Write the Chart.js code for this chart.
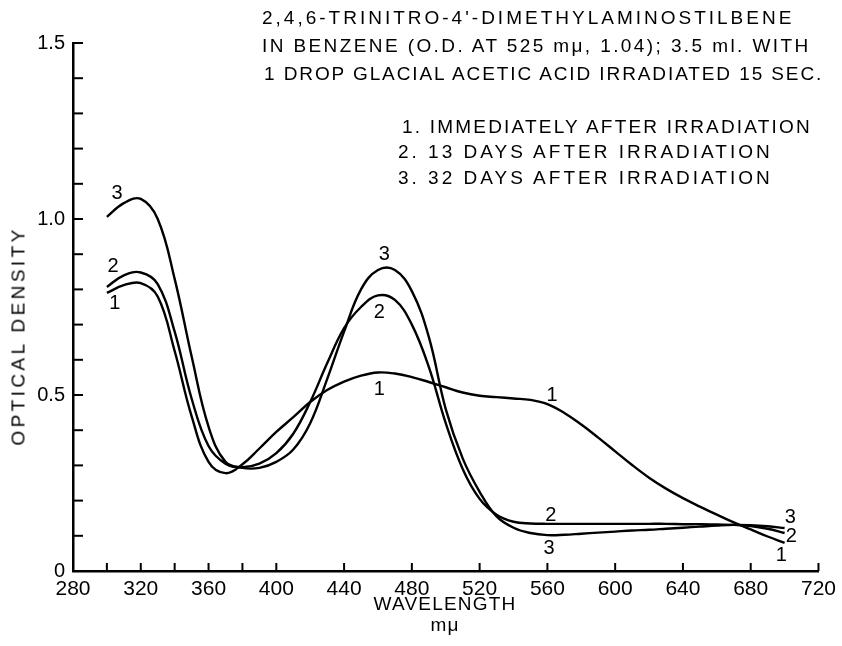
<!DOCTYPE html>
<html lang="en">
<head>
<meta charset="UTF-8">
<title>Trinitro-dimethylaminostilbene absorption after irradiation</title>
<script src="https://cdn.jsdelivr.net/npm/chart.js"></script>
<style>
    body {
        margin: 0;
        background: #fff;
    }

    .wrap {
        position: relative;
        width: 842px;
        height: 646px;
        font-family: "Liberation Sans", Arial, sans-serif;
        color: #000;
    }

    .note {
        position: absolute;
        font-size: 19px;
        letter-spacing: 1.2px;
        white-space: nowrap;
        line-height: 1;
    }
</style>
</head>
<body>
<div class="wrap">
    <canvas id="spectrum" width="842" height="646"></canvas>

    <div class="note" style="left:262px; top:8px; letter-spacing:3px;">2,4,6-TRINITRO-4'-DIMETHYLAMINOSTILBENE</div>
    <div class="note" style="left:262px; top:36px; letter-spacing:2.4px;">IN BENZENE (O.D. AT 525 mμ, 1.04); 3.5 ml. WITH</div>
    <div class="note" style="left:264px; top:64px; letter-spacing:1.9px;">1 DROP GLACIAL ACETIC ACID IRRADIATED 15 SEC.</div>

    <div class="note" style="left:402px; top:117px; letter-spacing:2.2px;">1. IMMEDIATELY AFTER IRRADIATION</div>
    <div class="note" style="left:398px; top:142px; letter-spacing:3px;">2. 13 DAYS AFTER IRRADIATION</div>
    <div class="note" style="left:398px; top:168px; letter-spacing:3px;">3. 32 DAYS AFTER IRRADIATION</div>

    <div class="note" style="left:18px; top:336px; letter-spacing:3.4px; transform:translate(-50%,-50%) rotate(-90deg);">OPTICAL DENSITY</div>
    <div class="note" style="left:445px; top:603px; transform:translate(-50%,-50%);">WAVELENGTH</div>
    <div class="note" style="left:445px; top:624px; transform:translate(-50%,-50%);">mμ</div>
</div>

<script>
    // wavelength in m-mu, optical density
    const wavelengths = [300, 310, 320, 330, 340, 350, 360, 370, 380, 390,
        400, 410, 420, 430, 440, 450, 460, 470, 480, 490,
        500, 510, 520, 530, 540, 550, 560, 570, 580, 590,
        600, 610, 620, 630, 640, 650, 660, 670, 680, 690, 700];

    const immediately = [0.79, 0.812, 0.818, 0.78, 0.625, 0.44, 0.31, 0.278, 0.303, 0.348,
        0.395, 0.437, 0.48, 0.514, 0.538, 0.555, 0.564, 0.561, 0.551, 0.537,
        0.522, 0.507, 0.498, 0.494, 0.49, 0.486, 0.474, 0.449, 0.416, 0.379,
        0.34, 0.301, 0.265, 0.234, 0.207, 0.183, 0.16, 0.138, 0.118, 0.098, 0.08];

    const days13 = [0.807, 0.84, 0.848, 0.815, 0.68, 0.49, 0.355, 0.305, 0.295, 0.305,
        0.335, 0.39, 0.48, 0.59, 0.69, 0.75, 0.783, 0.77, 0.7, 0.58,
        0.42, 0.29, 0.205, 0.16, 0.14, 0.135, 0.134, 0.134, 0.134, 0.134,
        0.134, 0.134, 0.134, 0.134, 0.133, 0.133, 0.132, 0.131, 0.128, 0.12, 0.108];

    const days32 = [1.006, 1.045, 1.057, 1.0, 0.83, 0.61, 0.41, 0.31, 0.293, 0.293,
        0.31, 0.345, 0.42, 0.545, 0.68, 0.8, 0.855, 0.855, 0.795, 0.665,
        0.46, 0.32, 0.225, 0.155, 0.123, 0.108, 0.102, 0.103, 0.106, 0.109,
        0.112, 0.115, 0.117, 0.12, 0.123, 0.126, 0.129, 0.131, 0.13, 0.127, 0.122];

    const xTickMarks = [280, 300, 320, 340, 360, 380, 400, 440, 480, 520, 560, 600, 640, 680, 720];
    const yTickMarks = [0.1, 0.2, 0.3, 0.4, 0.5, 0.6, 0.7, 0.8, 0.9, 1.0, 1.1, 1.2, 1.3, 1.4, 1.5];

    // curve numbers written next to the lines (data units)
    const tagText = ["3", "2", "1", "3", "2", "1", "1", "2", "3", "3", "2", "1"];
    const tagWave = [306, 303.6, 304.7, 463.7, 460.8, 460.8, 562.7, 562, 561, 703.4, 704, 698];
    const tagDens = [1.073, 0.864, 0.761, 0.898, 0.733, 0.517, 0.5, 0.159, 0.065, 0.153, 0.097, 0.045];

    const toPoints = vals => vals.map((v, i) => ({ x: wavelengths[i], y: v }));

    const lineStyle = {
        borderColor: "#000",
        borderWidth: 2.4,
        pointRadius: 0,
        fill: false,
        tension: 0.4
    };

    const marks = {
        id: "marks",
        afterDraw(chart) {
            const { ctx, scales: { x, y } } = chart;
            ctx.save();
            ctx.strokeStyle = "#000";
            ctx.lineWidth = 2;
            xTickMarks.forEach(v => {
                const px = x.getPixelForValue(v);
                ctx.beginPath();
                ctx.moveTo(px, y.bottom);
                ctx.lineTo(px, y.bottom - 8);
                ctx.stroke();
            });
            yTickMarks.forEach(v => {
                const py = y.getPixelForValue(v);
                ctx.beginPath();
                ctx.moveTo(x.left, py);
                ctx.lineTo(x.left + 10, py);
                ctx.stroke();
            });

            ctx.fillStyle = "#000";
            ctx.font = '20px "Liberation Sans"';
            ctx.textAlign = "center";
            ctx.textBaseline = "middle";
            tagText.forEach((t, i) => {
                ctx.fillText(t, x.getPixelForValue(tagWave[i]), y.getPixelForValue(tagDens[i]));
            });
            ctx.restore();
        }
    };

    new Chart(document.getElementById("spectrum"), {
        type: "line",
        data: {
            datasets: [
                Object.assign({ label: "1", data: toPoints(immediately) }, lineStyle),
                Object.assign({ label: "2", data: toPoints(days13) }, lineStyle),
                Object.assign({ label: "3", data: toPoints(days32) }, lineStyle)
            ]
        },
        options: {
            responsive: false,
            devicePixelRatio: 1,
            animation: false,
            layout: { padding: { top: 43, right: 22, left: 0, bottom: 0 } },
            plugins: {
                legend: { display: false },
                tooltip: { enabled: false }
            },
            scales: {
                x: {
                    type: "linear",
                    min: 280,
                    max: 720,
                    afterFit: s => { s.height = 75; },
                    grid: { display: false, drawTicks: false },
                    border: { color: "#000", width: 2.5 },
                    ticks: {
                        stepSize: 40,
                        padding: 6,
                        color: "#000",
                        font: { family: "Liberation Sans", size: 21 }
                    }
                },
                y: {
                    min: 0,
                    max: 1.5,
                    afterFit: s => { s.width = 73; },
                    grid: { display: false, drawTicks: false },
                    border: { color: "#000", width: 2.5 },
                    ticks: {
                        stepSize: 0.5,
                        padding: 8,
                        color: "#000",
                        font: { family: "Liberation Sans", size: 20 },
                        callback: v => v === 0 ? "0" : v.toFixed(1)
                    }
                }
            }
        },
        plugins: [marks]
    });
</script>
</body>
</html>
